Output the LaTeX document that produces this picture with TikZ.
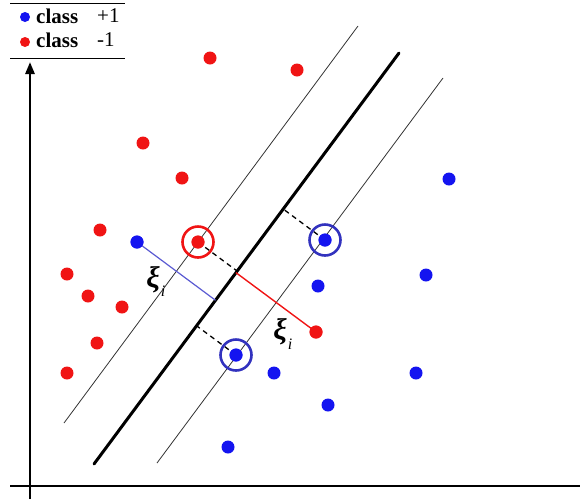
\documentclass[tikz,border=0pt]{standalone}
\usepackage{fontspec}
\setmainfont{Liberation Serif}
\usetikzlibrary{calc,arrows.meta}
\definecolor{ptblue}{RGB}{20,20,240}
\definecolor{ptred}{RGB}{240,20,20}
\definecolor{ringblue}{RGB}{50,50,190}
\definecolor{slackblue}{RGB}{90,90,210}
\begin{document}
\begin{tikzpicture}[x=1pt,y=-1pt,
  bdot/.style={circle,fill=ptblue,inner sep=0pt,minimum size=13pt},
  rdot/.style={circle,fill=ptred,inner sep=0pt,minimum size=13pt},
  ring/.style={circle,draw,line width=2.6pt,inner sep=0pt,minimum size=31pt},
  margin/.style={line width=0.8pt,black!80},
  hyper/.style={line width=3pt,line cap=round},
  axis/.style={line width=2.6pt},
  dashline/.style={dashed,line width=1.3pt,dash pattern=on 5pt off 4pt},
  legtext/.style={anchor=west,inner sep=0pt,font=\fontsize{21}{23}\selectfont},
  xilab/.style={inner sep=0pt,font=\fontsize{30}{32}\selectfont\bfseries\itshape},
  sublab/.style={inner sep=0pt,font=\fontsize{16}{18}\selectfont\itshape}]
\useasboundingbox (0,0) rectangle (580,499);
% axes
\coordinate (yb) at (30,499);
\coordinate (yt) at (30,62);
\coordinate (xl) at (10,486);
\coordinate (xr) at (580,486);
\draw[axis,-{Triangle[width=9pt,length=12pt]}] (yb) -- (yt);
\draw[axis] (xl) -- (xr);
% legend
\coordinate (l1a) at (10,3); \coordinate (l1b) at (125,3);
\coordinate (l2a) at (10,58); \coordinate (l2b) at (125,58);
\draw[line width=1pt] (l1a) -- (l1b);
\draw[line width=1pt] (l2a) -- (l2b);
\node[bdot,minimum size=10pt] (lb) at (25,17) {};
\node[rdot,minimum size=10pt] (lr) at (25,42) {};
\node[legtext] (lbt) at (36,16) {\textbf{class}};
\node[legtext] (lrt) at (36,40) {\textbf{class}};
\node[legtext] (lbn) at (97,16) {+1};
\node[legtext] (lrn) at (97,40) {-1};
% lines
\coordinate (a1) at (64,423); \coordinate (a2) at (358,26);
\coordinate (m1) at (94,464); \coordinate (m2) at (399,53);
\coordinate (c1) at (157,463); \coordinate (c2) at (443,78);
\draw[margin] (a1) -- (a2);
\draw[margin] (c1) -- (c2);
\draw[hyper] (m1) -- (m2);
% red points
\node[rdot] (r1) at (210,58) {};
\node[rdot] (r2) at (297,70) {};
\node[rdot] (r3) at (143,143) {};
\node[rdot] (r4) at (182,178) {};
\node[rdot] (r5) at (100,230) {};
\node[rdot] (r6) at (198,242) {};
\node[rdot] (r7) at (67,274) {};
\node[rdot] (r8) at (88,296) {};
\node[rdot] (r9) at (122,307) {};
\node[rdot] (r10) at (97,343) {};
\node[rdot] (r11) at (67,373) {};
\node[rdot] (r12) at (316,332) {};
% blue points
\node[bdot] (b1) at (137,242) {};
\node[bdot] (b2) at (325,240) {};
\node[bdot] (b3) at (449,179) {};
\node[bdot] (b4) at (426,275) {};
\node[bdot] (b5) at (318,286) {};
\node[bdot] (b6) at (236,355) {};
\node[bdot] (b7) at (274,373) {};
\node[bdot] (b8) at (416,373) {};
\node[bdot] (b9) at (328,405) {};
\node[bdot] (b10) at (228,447) {};
% projections on the hyperplane
\coordinate (f6) at ($(m1)!(r6)!(m2)$);
\coordinate (f12) at ($(m1)!(r12)!(m2)$);
\coordinate (fb1) at ($(m1)!(b1)!(m2)$);
\coordinate (fb2) at ($(m1)!(b2)!(m2)$);
\coordinate (fb6) at ($(m1)!(b6)!(m2)$);
\draw[dashline] (r6.center) -- (f6);
\draw[dashline] (b2.center) -- (fb2);
\draw[dashline] (b6.center) -- (fb6);
\draw[ptred,line width=1.4pt] (r12.center) -- (f12);
\draw[slackblue,line width=1.2pt] (b1.center) -- (fb1);
% redraw points over lines
\node[rdot] at (r6) {};
\node[bdot] at (b2) {};
\node[bdot] at (b6) {};
\node[rdot] at (r12) {};
\node[bdot] at (b1) {};
% rings
\node[ring,draw=ptred] (ring6) at (r6) {};
\node[ring,draw=ringblue] (ringb2) at (b2) {};
\node[ring,draw=ringblue] (ringb6) at (b6) {};
% labels
\node[xilab] (xi1) at (153,280) {ξ};
\node[sublab] (xi1s) at (163,291) {i};
\node[xilab] (xi2) at (280,332) {ξ};
\node[sublab] (xi2s) at (290,344) {i};
\end{tikzpicture}
\end{document}
